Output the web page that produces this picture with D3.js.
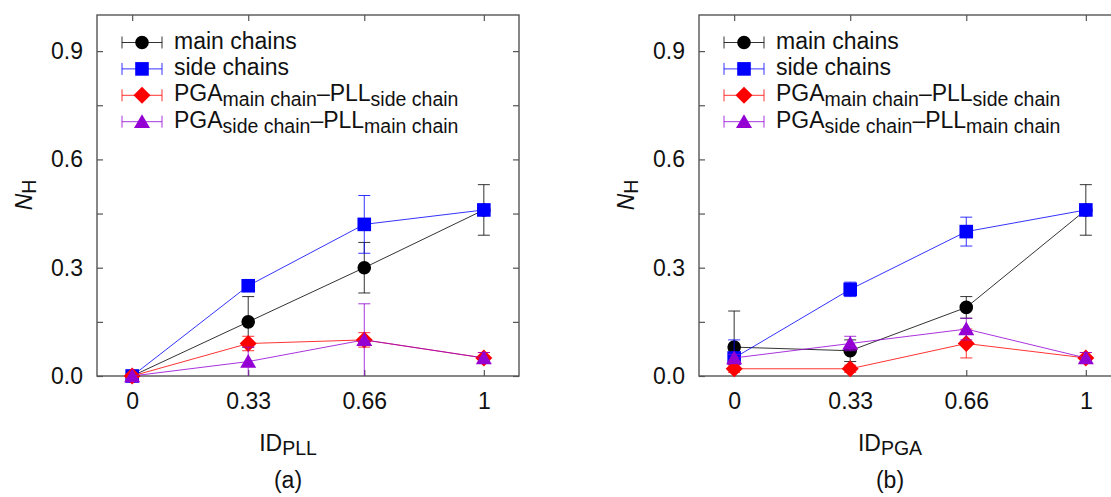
<!DOCTYPE html>
<html>
<head>
<meta charset="utf-8">
<script src="https://cdn.jsdelivr.net/npm/d3@7/dist/d3.min.js"></script>
<style>
  html, body { margin: 0; padding: 0; background: #fff; }
  svg { display: block; }
  text { font-family: "Liberation Sans", Arial, sans-serif; fill: #111; }
</style>
</head>
<body>
<svg id="chart" width="1111" height="497"></svg>
<script>
// ---------------- data ----------------
const xValues = [0, 0.33, 0.66, 1];
const xTickLabels = ["0", "0.33", "0.66", "1"];
const yTickValues = [0, 0.15, 0.3, 0.45, 0.6, 0.75, 0.9];
const yTickLabels = {0: "0.0", 0.3: "0.3", 0.6: "0.6", 0.9: "0.9"};

const seriesNames = ["main chains", "side chains", "PGA-PLL (main-side)", "PGA-PLL (side-main)"];
const seriesColors = ["#000000", "#0000ff", "#ff0000", "#9400d3"];
const seriesMarkers = ["circle", "square", "diamond", "triangle"];

// panel (a): x = ID_PLL
const aMain = [0, 0.15, 0.30, 0.46];
const aMainErr = [0, 0.07, 0.07, 0.07];
const aSide = [0, 0.25, 0.42, 0.46];
const aSideErr = [0, 0.01, 0.08, 0.01];
const aMainSide = [0, 0.09, 0.10, 0.05];
const aMainSideErr = [0, 0.02, 0.02, 0.015];
const aSideMain = [0, 0.04, 0.10, 0.05];
const aSideMainErr = [0, 0.04, 0.10, 0.015];

// panel (b): x = ID_PGA
const bMain = [0.08, 0.07, 0.19, 0.46];
const bMainErr = [0.10, 0.03, 0.03, 0.07];
const bSide = [0.05, 0.24, 0.40, 0.46];
const bSideErr = [0.05, 0.02, 0.04, 0.01];
const bMainSide = [0.02, 0.02, 0.09, 0.05];
const bMainSideErr = [0.01, 0.01, 0.04, 0.015];
const bSideMain = [0.05, 0.09, 0.13, 0.05];
const bSideMainErr = [0.01, 0.02, 0.03, 0.015];

const panels = [
  { left: 97, xLabel: "ID", xSub: "PLL", tag: "(a)",
    series: [[aMain, aMainErr], [aSide, aSideErr], [aMainSide, aMainSideErr], [aSideMain, aSideMainErr]] },
  { left: 699, xLabel: "ID", xSub: "PGA", tag: "(b)",
    series: [[bMain, bMainErr], [bSide, bSideErr], [bMainSide, bMainSideErr], [bSideMain, bSideMainErr]] }
];

// legend text pieces: [text, isSub]
const legendTexts = [
  [["main chains", false]],
  [["side chains", false]],
  [["PGA", false], ["main chain", true], ["\u2013PLL", false], ["side chain", true]],
  [["PGA", false], ["side chain", true], ["\u2013PLL", false], ["main chain", true]]
];

// ---------------- drawing ----------------
const svg = d3.select("#chart");
const W = 422, TOP = 15, BOTTOM = 376;
const FS = 23, SFS = 19.5;

function markerPath(type) {
  const p = d3.path();
  if (type === "circle") { p.arc(0, 0, 6.8, 0, 2 * Math.PI); }
  else if (type === "square") { p.rect(-6.8, -6.8, 13.6, 13.6); }
  else if (type === "diamond") { p.moveTo(0, -8.5); p.lineTo(8.5, 0); p.lineTo(0, 8.5); p.lineTo(-8.5, 0); p.closePath(); }
  else { p.moveTo(0, -7.5); p.lineTo(8, 6.2); p.lineTo(-8, 6.2); p.closePath(); }
  return p.toString();
}

panels.forEach(panel => {
  const x = d3.scaleLinear().domain([-0.1, 1.1]).range([panel.left, panel.left + W]);
  const y = d3.scaleLinear().domain([0, 1]).range([BOTTOM, TOP]);
  const g = svg.append("g");

  // axes
  const axColor = "#555";
  const fmtY = d => yTickLabels[Math.round(d * 100) / 100] !== undefined ? yTickLabels[Math.round(d * 100) / 100] : "";
  const axL = g.append("g").attr("transform", `translate(${panel.left},0)`)
    .call(d3.axisLeft(y).tickValues(yTickValues).tickSize(-6).tickPadding(14).tickFormat(fmtY));
  const axR = g.append("g").attr("transform", `translate(${panel.left + W},0)`)
    .call(d3.axisRight(y).tickValues(yTickValues).tickSize(-6).tickFormat(""));
  const axB = g.append("g").attr("transform", `translate(0,${BOTTOM})`)
    .call(d3.axisBottom(x).tickValues(xValues).tickSize(-6).tickPadding(17).tickFormat((d, i) => xTickLabels[i]));
  const axT = g.append("g").attr("transform", `translate(0,${TOP})`)
    .call(d3.axisTop(x).tickValues(xValues).tickSize(-6).tickFormat(""));
  [axL, axR, axB, axT].forEach(a => {
    a.select(".domain").remove();
    a.selectAll("line").attr("stroke", axColor).attr("stroke-width", 1.2);
    a.selectAll("text").attr("font-size", FS).attr("font-family", "Liberation Sans, Arial, sans-serif").attr("fill", "#111");
  });
  g.append("rect").attr("x", panel.left).attr("y", TOP).attr("width", W).attr("height", BOTTOM - TOP)
    .attr("fill", "none").attr("stroke", axColor).attr("stroke-width", 1.4);

  // series
  panel.series.forEach((s, si) => {
    const vals = s[0], errs = s[1];
    const col = seriesColors[si];
    const sg = g.append("g");
    const line = d3.line().x((d, i) => x(xValues[i])).y(d => y(d));
    sg.append("path").attr("d", line(vals)).attr("fill", "none")
      .attr("stroke", col).attr("stroke-width", 1).attr("stroke-opacity", 0.8);
    vals.forEach((v, i) => {
      const e = errs[i];
      if (e > 0) {
        const cx = x(xValues[i]);
        const lo = y(Math.max(0, v - e)), hi = y(v + e);
        sg.append("line").attr("x1", cx).attr("x2", cx).attr("y1", lo).attr("y2", hi)
          .attr("stroke", col).attr("stroke-width", 1).attr("stroke-opacity", 0.8);
        [hi, lo].forEach(yy => {
          if (yy < BOTTOM - 0.5)
            sg.append("line").attr("x1", cx - 6).attr("x2", cx + 6).attr("y1", yy).attr("y2", yy)
              .attr("stroke", col).attr("stroke-width", 1).attr("stroke-opacity", 0.8);
        });
      }
    });
    sg.selectAll("path.mk").data(vals).join("path").attr("class", "mk")
      .attr("d", markerPath(seriesMarkers[si]))
      .attr("transform", (d, i) => `translate(${x(xValues[i])},${y(d)})`)
      .attr("fill", col);
  });

  // legend
  legendTexts.forEach((pieces, i) => {
    const ry = TOP + 27.5 + i * 26.4;
    const x0 = panel.left + 25, x1 = panel.left + 65, xm = panel.left + 45;
    const col = seriesColors[i];
    const lg = g.append("g");
    lg.append("line").attr("x1", x0).attr("x2", x1).attr("y1", ry).attr("y2", ry)
      .attr("stroke", col).attr("stroke-width", 1).attr("stroke-opacity", 0.8);
    [x0, x1].forEach(xx => lg.append("line").attr("x1", xx).attr("x2", xx).attr("y1", ry - 6).attr("y2", ry + 6)
      .attr("stroke", col).attr("stroke-width", 1).attr("stroke-opacity", 0.8));
    lg.append("path").attr("d", markerPath(seriesMarkers[i])).attr("transform", `translate(${xm},${ry})`).attr("fill", col);
    const t = lg.append("text").attr("x", panel.left + 77).attr("y", ry + 6).attr("font-size", FS);
    let sub = false;
    pieces.forEach(([txt, isSub]) => {
      const ts = t.append("tspan").text(txt);
      if (isSub && !sub) { ts.attr("dy", 5).attr("font-size", SFS); sub = true; }
      else if (!isSub && sub) { ts.attr("dy", -5); sub = false; }
      else if (isSub) { ts.attr("font-size", SFS); }
    });
  });

  // x label
  const cx = panel.left + W / 2 - 20;
  const xl = g.append("text").attr("x", cx).attr("y", 451).attr("text-anchor", "middle").attr("font-size", FS);
  xl.append("tspan").text(panel.xLabel);
  xl.append("tspan").text(panel.xSub).attr("font-size", SFS).attr("dy", 4);
  g.append("text").attr("x", cx).attr("y", 488).attr("text-anchor", "middle").attr("font-size", FS).text(panel.tag);

  // y label
  const yl = g.append("text").attr("transform", `translate(${panel.left - 65},195) rotate(-90)`)
    .attr("text-anchor", "middle").attr("font-size", FS);
  yl.append("tspan").text("N").attr("font-style", "italic");
  yl.append("tspan").text("H").attr("font-size", SFS).attr("dy", 4);
});
</script>
</body>
</html>
